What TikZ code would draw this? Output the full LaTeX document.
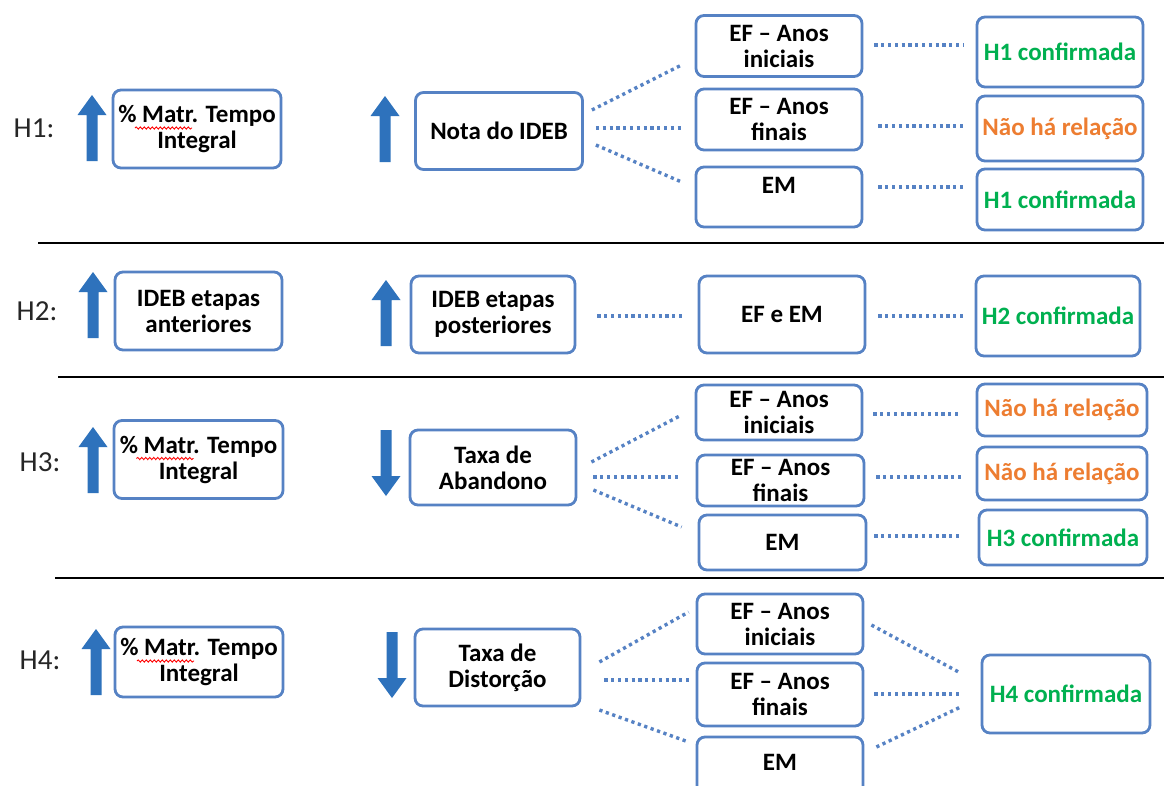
\documentclass[tikz,border=0pt]{standalone}
\usepackage{fontspec}
\setmainfont{Carlito}
\usetikzlibrary{calc,decorations.pathmorphing}
\definecolor{boxblue}{RGB}{86,130,196}
\definecolor{arrblue}{RGB}{46,114,188}
\definecolor{okgreen}{RGB}{0,176,80}
\definecolor{noorange}{RGB}{237,125,49}
\definecolor{labgray}{RGB}{38,38,38}
\tikzset{
  box/.style={draw=boxblue, line width=2.8pt, rounded corners=8pt, fill=white,
    align=center, inner sep=0pt, font=\fontsize{25}{26}\selectfont\bfseries},
  okbox/.style={box, text=okgreen},
  nobox/.style={box, text=noorange},
  dots/.style={draw=boxblue, line width=3.4pt, dash pattern=on 3.2pt off 3.6pt},
  hlabel/.style={font=\fontsize{29}{30}\selectfont, text=labgray, inner sep=0pt},
  sepline/.style={line width=2.8pt, black},
  squig/.style={draw=red, line width=0.9pt, decorate,
    decoration={snake, amplitude=1.1pt, segment length=4pt}},
  upar/.pic={\fill[arrblue] (-5.5,0) -- (-5.5,-46) -- (-14.5,-46) -- (0,-66)
    -- (14.5,-46) -- (5.5,-46) -- (5.5,0) -- cycle;},
  dnar/.pic={\fill[arrblue] (-5.5,0) -- (-5.5,46) -- (-14.5,46) -- (0,66)
    -- (14.5,46) -- (5.5,46) -- (5.5,0) -- cycle;},
}
\begin{document}
\begin{tikzpicture}[x=1pt,y=-1pt]
\fill[white] (0,0) rectangle (1164,785);
\useasboundingbox (0,0) rectangle (1164,785);

% separators
\draw[sepline] (38,243) -- (1164,243);
\draw[sepline] (58,377) -- (1164,377);
\draw[sepline] (55,578) -- (1164,578);

% ---------------- H1
\node[hlabel] (h1) at (34,128) {H1:};
\pic at (92,161) {upar};
\node[box, minimum width=168, minimum height=78] (m1) at (197,129) {\% Matr. Tempo\\Integral};
\draw[squig] ($(m1.center)+(-62,-1)$) -- ($(m1.center)+(-5,-1)$);
\pic at (385,162) {upar};
\node[box, minimum width=167, minimum height=77] (n1) at (499,131) {Nota do IDEB};
\node[box, minimum width=166, minimum height=61] (a1) at (779,46) {EF – Anos\\iniciais};
\node[box, minimum width=166, minimum height=61] (b1) at (779,119.5) {EF – Anos\\finais};
\node[box, minimum width=166, minimum height=60] (c1) at (779,197) {\raisebox{12pt}[\height][\depth]{EM}};
\node[okbox, minimum width=166, minimum height=70] (r11) at (1060,52) {H1 confirmada};
\node[nobox, minimum width=166, minimum height=65] (r12) at (1060,128.5) {Não há relação};
\node[okbox, minimum width=166, minimum height=61] (r13) at (1060,199.5) {H1 confirmada};
\draw[dots] ($(n1.east)+(8,-21)$) -- ($(a1.west)+(-13,19)$);
\draw[dots] ($(n1.east)+(12,-3)$) -- ($(b1.west)+(-13,8.5)$);
\draw[dots] ($(n1.east)+(12,14)$) -- ($(c1.west)+(-13,-15)$);
\draw[dots] ($(a1.east)+(11,-1)$) -- ($(r11.west)+(-12,-7)$);
\draw[dots] ($(b1.east)+(15,6.5)$) -- ($(r12.west)+(-10,-2.5)$);
\draw[dots] ($(c1.east)+(15,-10)$) -- ($(r13.west)+(-10,-12.5)$);

% ---------------- H2
\node[hlabel] (h2) at (37,311) {H2:};
\pic at (93,338) {upar};
\node[box, minimum width=167, minimum height=78] (m2) at (198.5,311) {IDEB etapas\\anteriores};
\pic at (386,346) {upar};
\node[box, minimum width=164, minimum height=77] (n2) at (493,314.5) {IDEB etapas\\posteriores};
\node[box, minimum width=166, minimum height=77] (a2) at (782,314.5) {EF e EM};
\node[okbox, minimum width=164, minimum height=80] (r2) at (1058,316) {H2 confirmada};
\draw[dots] ($(n2.east)+(21,1.5)$) -- ($(a2.west)+(-13,1.5)$);
\draw[dots] ($(a2.east)+(12,1.5)$) -- ($(r2.west)+(-10,0)$);

% ---------------- H3
\node[hlabel] (h3) at (40,462) {H3:};
\pic at (93,493) {upar};
\node[box, minimum width=169, minimum height=78] (m3) at (198.5,459.5) {\% Matr. Tempo\\Integral};
\draw[squig] ($(m3.center)+(-62,-1)$) -- ($(m3.center)+(-5,-1)$);
\pic at (386,430) {dnar};
\node[box, minimum width=166, minimum height=75] (n3) at (493,467.5) {Taxa de\\Abandono};
\node[box, minimum width=166, minimum height=55] (a3) at (779,412.5) {EF – Anos\\iniciais};
\node[box, minimum width=167, minimum height=51] (b3) at (780.5,480.5) {EF – Anos\\finais};
\node[box, minimum width=167, minimum height=55] (c3) at (782.5,542.5) {EM};
\node[nobox, minimum width=170, minimum height=52] (r31) at (1062,410) {Não há relação};
\node[nobox, minimum width=170, minimum height=53] (r32) at (1062,473.5) {Não há relação};
\node[okbox, minimum width=168, minimum height=55] (r33) at (1063,537.5) {H3 confirmada};
\draw[dots] ($(n3.east)+(14,-5.5)$) -- ($(a3.west)+(-13,2.5)$);
\draw[dots] ($(n3.east)+(16,9.5)$) -- ($(b3.west)+(-14,-3.5)$);
\draw[dots] ($(n3.east)+(16,22.5)$) -- ($(c3.west)+(-16,-15.5)$);
\draw[dots] ($(a3.east)+(10,1.5)$) -- ($(r31.west)+(-15,4)$);
\draw[dots] ($(b3.east)+(11,-3.5)$) -- ($(r32.west)+(-15,3.5)$);
\draw[dots] ($(c3.east)+(7,-6.5)$) -- ($(r33.west)+(-17,-1.5)$);

% ---------------- H4
\node[hlabel] (h4) at (40,660) {H4:};
\pic at (96,695) {upar};
\node[box, minimum width=168, minimum height=70] (m4) at (199,662) {\% Matr. Tempo\\Integral};
\draw[squig] ($(m4.center)+(-62,-1)$) -- ($(m4.center)+(-5,-1)$);
\pic at (392,632) {dnar};
\node[box, minimum width=165, minimum height=77] (n4) at (497.5,667.5) {Taxa de\\Distorção};
\node[box, minimum width=166, minimum height=60] (a4) at (780,624) {EF – Anos\\iniciais};
\node[box, minimum width=166, minimum height=63] (b4) at (780,694.5) {EF – Anos\\finais};
\node[box, minimum width=166, minimum height=76] (c4) at (780,775) {\raisebox{13pt}[\height][\depth]{EM}};
\node[okbox, minimum width=168, minimum height=78] (r4) at (1066,694) {H4 confirmada};
\draw[dots] ($(n4.east)+(18,-5.5)$) -- ($(a4.west)+(-7,-12)$);
\draw[dots] ($(n4.east)+(23,12.5)$) -- ($(b4.west)+(-7,-14.5)$);
\draw[dots] ($(n4.east)+(18,42.5)$) -- ($(c4.west)+(-7,-33)$);
\draw[dots] ($(a4.east)+(7,1)$) -- ($(r4.west)+(-22,-22)$);
\draw[dots] ($(b4.east)+(10,-0.5)$) -- ($(r4.west)+(-19,0)$);
\draw[dots] ($(c4.east)+(12,-28)$) -- ($(r4.west)+(-20,13)$);
\end{tikzpicture}
\end{document}
